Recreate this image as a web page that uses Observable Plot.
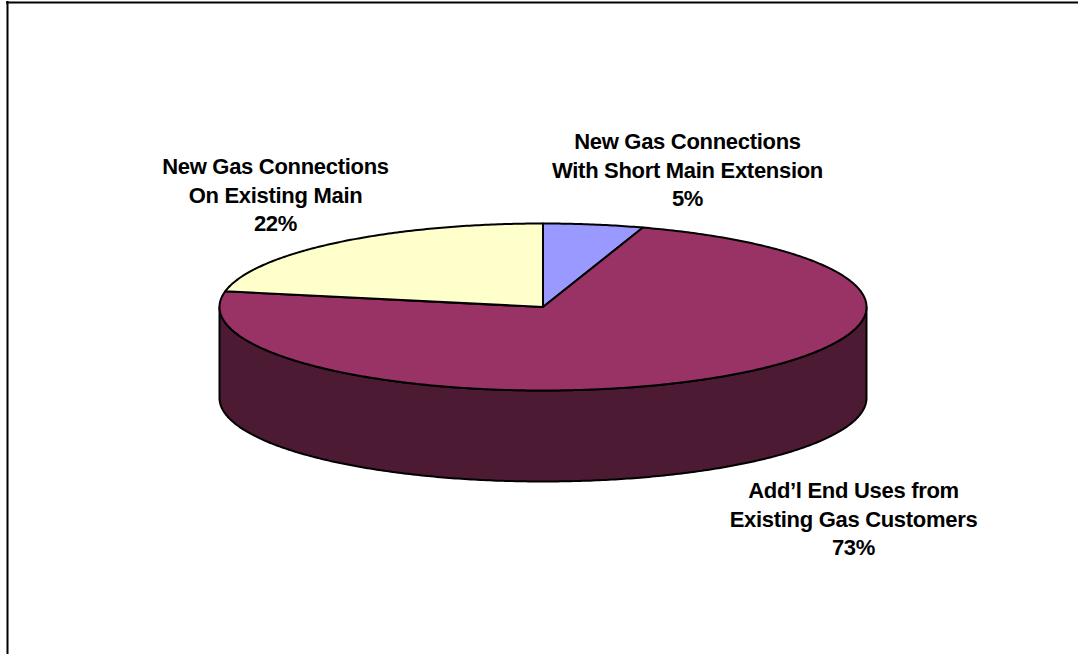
<!DOCTYPE html>
<html>
<head>
<meta charset="utf-8">
<script src="https://cdn.jsdelivr.net/npm/d3@7"></script>
<script src="https://cdn.jsdelivr.net/npm/@observablehq/plot@0.6"></script>
<style>
  html, body { margin: 0; padding: 0; background: #fff; overflow: hidden; }
  svg { display: block; }
  svg text { letter-spacing: -0.3px; }
</style>
</head>
<body>
<div id="chart"></div>
<script>
// Shares of gas demand growth, in clockwise order from twelve o'clock.
const categories = [
  "New Gas Connections\nWith Short Main Extension",
  "Add\u2019l End Uses from\nExisting Gas Customers",
  "New Gas Connections\nOn Existing Main"
];
const shares = [5, 73, 22];
const topColors = ["#9999ff", "#993366", "#ffffcc"];
const wallColor = "#4d1a33";

// Layout of the tilted disc and its labels, in page pixels.
const cx = 542.5, cy = 306.5, rx = 323.5, ry = 83.5, depth = 91;
const labelSpots = [[687, 168], [853, 517], [275, 193]];

// Point on the rim for an angle measured clockwise from twelve o'clock.
const rim = (a, drop = 0) => [cx + rx * Math.sin(a), cy - ry * Math.cos(a) + drop];
const arc = (a0, a1, drop = 0) => {
  const n = Math.max(2, Math.ceil(Math.abs(a1 - a0) / 0.01));
  return d3.range(n + 1).map(i => rim(a0 + (a1 - a0) * i / n, drop));
};

// Turn the shares into wedges on the top face.
const total = d3.sum(shares);
let running = 0;
const wedges = shares.flatMap((value, i) => {
  const a0 = running / total * 2 * Math.PI;
  running += value;
  const a1 = running / total * 2 * Math.PI;
  return [[cx, cy], ...arc(a0, a1), [cx, cy]].map(([x, y]) => ({x, y, key: i}));
});

// The visible wall is the front half of the rim and the same half dropped by the depth.
const wall = [...arc(Math.PI / 2, 3 * Math.PI / 2), ...arc(3 * Math.PI / 2, Math.PI / 2, depth)]
  .map(([x, y]) => ({x, y}));
wall.push(wall[0]);

const labels = categories.map((name, i) => ({
  text: `${name}\n${shares[i]}%`,
  x: labelSpots[i][0],
  y: labelSpots[i][1]
}));

const chart = Plot.plot({
  width: 1078,
  height: 654,
  margin: 0,
  x: {type: "identity", axis: null},
  y: {type: "identity", axis: null},
  marks: [
    // Chart border: only the top and left edges fall on the page.
    Plot.ruleX([7], {y1: 1, y2: 654, stroke: "#000", strokeWidth: 2}),
    Plot.ruleY([2], {x1: 6, x2: 1078, stroke: "#000", strokeWidth: 2}),
    Plot.line(wall, {x: "x", y: "y", curve: "linear", fill: wallColor, stroke: "#000", strokeWidth: 2}),
    Plot.line(wedges, {
      x: "x", y: "y", z: "key", curve: "linear",
      fill: d => topColors[d.key], stroke: "#000", strokeWidth: 2, strokeLinejoin: "round"
    }),
    Plot.text(labels, {
      x: "x", y: "y", text: "text",
      fontFamily: "'Liberation Sans', Arial, sans-serif",
      fontSize: 22, fontWeight: 700,
      lineHeight: 1.3, fill: "#000", textAnchor: "middle", lineAnchor: "middle"
    })
  ]
});
document.getElementById("chart").append(chart);
</script>
</body>
</html>
